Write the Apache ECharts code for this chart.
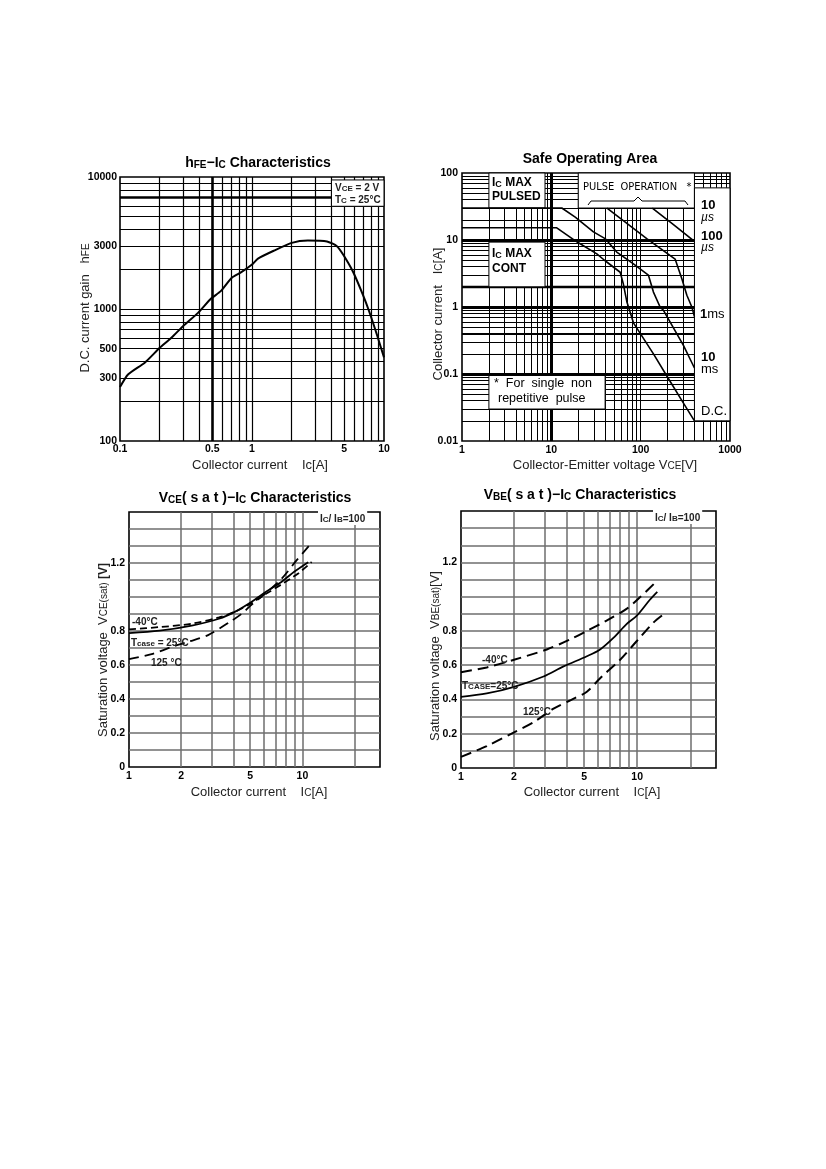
<!DOCTYPE html>
<html>
<head>
<meta charset="utf-8">
<script src="https://cdn.jsdelivr.net/npm/echarts@6/dist/echarts.min.js"></script>
<style>
html, body { margin:0; padding:0; background:#fff; }
#page { position:relative; width:826px; height:1169px; }
#chart { position:absolute; left:0; top:0; width:826px; height:1169px; }
.rule1 { position:absolute; left:76px; top:89px; width:674px; height:1px; background:#7a7a7a; }
.rule2 { position:absolute; left:79px; top:133px; width:671px; height:4px; background:#000; }
</style>
</head>
<body>
<div id="page">
  <div class="rule1"></div>
  <div class="rule2"></div>
  <div id="chart"></div>
</div>
<script>
// ---------- hFE - Ic ----------
var hfeIc   = [0.1, 0.115, 0.154, 0.2, 0.245, 0.3, 0.39, 0.49, 0.58, 0.7, 0.83, 1.0, 1.11, 1.47, 2.0, 2.65, 3.7, 4.4, 4.9, 5.8, 6.9, 7.7, 8.9, 10];
var hfeGain = [256, 319, 392, 508, 605, 741, 935, 1200, 1365, 1720, 1900, 2170, 2410, 2770, 3170, 3300, 3250, 2990, 2585, 1930, 1290, 965, 625, 430];
var hfeXTicks = [0.1, 0.5, 1, 5, 10];
var hfeYTicks = [100, 300, 500, 1000, 3000, 10000];

// ---------- Safe operating area ----------
var soaDcV    = [1, 11.5, 19.3, 32.3, 40, 59, 64, 70, 76, 83, 139, 205, 300, 400];
var soaDcI    = [15.2, 15.2, 9.4, 6.2, 4.9, 3.3, 2.2, 1.2, 0.85, 0.58, 0.2, 0.085, 0.037, 0.02];
var soa10msV  = [1, 13.1, 18.5, 29.6, 40, 54, 83, 122, 139, 165, 180, 300, 400];
var soa10msI  = [30, 30, 22, 13.2, 10.5, 6.6, 4.4, 3.0, 1.67, 1.0, 0.89, 0.27, 0.123];
var soa1msV   = [42, 117, 243, 289, 329, 374, 400];
var soa1msI   = [30, 10.5, 5.2, 2.65, 1.5, 1.0, 0.72];
var soa100usV = [135, 233, 400];
var soa100usI = [30, 17, 9.5];
var soaXTicks = [1, 10, 100, 1000];
var soaYTicks = [0.01, 0.1, 1, 10, 100];

// ---------- VCE(sat) - Ic ----------
var vceIc25  = [1, 1.5, 2.3, 3.3, 4.1, 5.1, 6.2, 7.6, 9.0, 10.8];
var vce25    = [0.788, 0.802, 0.832, 0.872, 0.914, 0.972, 1.032, 1.09, 1.15, 1.205];
var vceIcM40 = [1, 1.5, 2.3, 3.3, 4.1, 5.1, 6.2, 7.6, 8.5, 9.5, 11.3];
var vceM40   = [0.81, 0.823, 0.843, 0.88, 0.914, 0.965, 1.02, 1.075, 1.107, 1.14, 1.206];
var vceIc125 = [1, 1.35, 1.84, 2.2, 2.86, 3.9, 4.45, 5.1, 6.1, 7.57, 9.24, 10.9];
var vce125   = [0.634, 0.664, 0.713, 0.737, 0.776, 0.86, 0.9, 0.955, 1.02, 1.107, 1.215, 1.30];

// ---------- VBE(sat) - Ic ----------
var vbeIcM40 = [1, 1.4, 2.0, 3.07, 4.17, 5.18, 6.7, 8.7, 10.4, 12.8];
var vbeM40   = [0.559, 0.587, 0.632, 0.692, 0.751, 0.80, 0.86, 0.929, 0.998, 1.087];
var vbeIc25  = [1, 1.4, 2.0, 2.94, 3.82, 5.18, 6.16, 7.35, 8.7, 9.95, 11.8, 13.0];
var vbe25    = [0.415, 0.435, 0.474, 0.534, 0.593, 0.652, 0.692, 0.761, 0.84, 0.889, 0.982, 1.028];
var vbeIc125 = [1, 1.4, 2.0, 2.58, 3.35, 4.36, 5.18, 6.16, 8.0, 9.95, 12.4, 14.2];
var vbe125   = [0.065, 0.128, 0.208, 0.267, 0.346, 0.405, 0.445, 0.524, 0.632, 0.741, 0.85, 0.899];

var satXTicks = [1, 2, 5, 10];
var satYTicks = [0, 0.2, 0.4, 0.6, 0.8, 1.2];

var TF = 'Liberation Sans';
var NARROW = "'Liberation Sans Narrow', 'DejaVu Sans Condensed', 'Liberation Sans'";

// log grid: 2..9 x 10^k between lo and hi (plus inner decades)
function logGrid(lo, hi) {
  var out = [];
  for (var d = lo; d < hi; d *= 10) {
    for (var m = 1; m <= 9; m++) {
      var v = +(m * d).toPrecision(6);
      if (v > lo && v < hi) out.push(v);
    }
  }
  return out;
}
function linGrid(lo, hi, step) {
  var out = [];
  for (var v = lo + step; v < hi - 1e-9; v += step) out.push(+v.toFixed(6));
  return out;
}

function fmt(v) { return String(+(+v).toPrecision(6)); }

function axis(type, idx, min, max, ticks, margin) {
  return {
    type: type, logBase: 10, gridIndex: idx, min: min, max: max,
    axisLine: { show: false }, axisTick: { show: false },
    splitLine: { show: false }, minorTick: { show: false }, minorSplitLine: { show: false },
    axisLabel: {
      customValues: ticks, margin: margin, color: '#000',
      fontFamily: TF, fontSize: 10.5, fontWeight: 'bold',
      showMinLabel: true, showMaxLabel: true, formatter: fmt
    }
  };
}

function gridSeries(idx, xs, ys, xr, yr, st) {
  var data = [];
  xs.forEach(function (v) {
    data.push({ coords: [[v, yr[0]], [v, yr[1]]], lineStyle: { width: st.xw[v] || st.w, color: st.color } });
  });
  ys.forEach(function (v) {
    data.push({ coords: [[xr[0], v], [xr[1], v]], lineStyle: { width: st.yw[v] || st.w, color: st.color } });
  });
  return {
    type: 'lines', coordinateSystem: 'cartesian2d', xAxisIndex: idx, yAxisIndex: idx,
    silent: true, z: 1, animation: false,
    lineStyle: { color: st.color, width: st.w, opacity: 1, curveness: 0 },
    data: data
  };
}

function curve(idx, xs, ys, dash, width, smooth) {
  return {
    type: 'line', xAxisIndex: idx, yAxisIndex: idx, z: 3, symbol: 'none',
    smooth: smooth, animation: false, silent: true,
    lineStyle: { color: '#000', width: width, type: dash || 'solid' },
    data: xs.map(function (x, i) { return [x, ys[i]]; })
  };
}

function boxSeries(idx, boxes) {
  return {
    type: 'custom', coordinateSystem: 'cartesian2d', xAxisIndex: idx, yAxisIndex: idx,
    z: 2, silent: true, animation: false, encode: { x: [0, 2], y: [1, 3] },
    renderItem: function (params, api) {
      var a = api.coord([api.value(0), api.value(1)]);
      var b = api.coord([api.value(2), api.value(3)]);
      return {
        type: 'rect',
        shape: { x: Math.min(a[0], b[0]), y: Math.min(a[1], b[1]), width: Math.abs(a[0] - b[0]), height: Math.abs(a[1] - b[1]) },
        style: { fill: '#fff', stroke: '#000', lineWidth: 1 }
      };
    },
    data: boxes
  };
}

// annotation boxes (white panels over the grid), in axis units
var hfeBoxes = [[4, 6000, 10, 9500]];
var soaBoxes = [[2, 30, 8.5, 100], [2, 2, 8.5, 9.3], [20, 30, 400, 100], [2, 0.03, 40, 0.095], [400, 0.02, 1000, 60]];

function R(size, bold, extra) {
  var o = { fontFamily: TF, fontSize: size, fontWeight: bold ? 'bold' : 'normal', fill: '#000', verticalAlign: 'bottom', lineHeight: size + 2 };
  for (var k in extra || {}) o[k] = extra[k];
  return o;
}
function txt(x, y, text, o) {
  o = o || {};
  var st = {
    text: text, fontFamily: o.family || TF, fontSize: o.size || 12, fontWeight: o.bold ? 'bold' : 'normal',
    fill: o.color || '#000', align: o.align || 'left', verticalAlign: 'middle', rich: o.rich || {}
  };
  if (o.bg) { st.backgroundColor = o.bg; st.padding = o.pad || [1, 2]; }
  return { type: 'text', x: x, y: y, rotation: o.rot || 0, z: 100, silent: true, style: st };
}

var titleRich = { b: R(14, true), s: R(10, true, { lineHeight: 14 }) };
var nameRich  = { n: R(13, false, { fill: '#222' }), s: R(10, false, { fill: '#222', lineHeight: 13 }), v: R(12, true, { fill: '#222' }) };
var noteRich  = { n: R(10, true, { fill: '#222' }), s: R(8, true, { fill: '#222', lineHeight: 10 }) };
var boxRich   = { n: R(12, true), s: R(9, true, { lineHeight: 12 }) };
var sideRich  = { n: R(13, true), u: R(12, false, { fontStyle: 'italic' }), m: R(13, false) };

var grids = [
  { left: 120, top: 177, width: 264, height: 264 },
  { left: 462, top: 173, width: 268, height: 268 },
  { left: 129, top: 512, width: 251, height: 255 },
  { left: 461, top: 511, width: 255, height: 257 }
].map(function (g) {
  g.show = true; g.borderColor = '#000'; g.borderWidth = 1.6; g.backgroundColor = 'transparent';
  g.containLabel = false;
  return g;
});

var option = {
  animation: false,
  backgroundColor: '#fff',
  grid: grids,
  xAxis: [
    axis('log', 0, 0.1, 10, hfeXTicks, 3),
    axis('log', 1, 1, 1000, soaXTicks, 4),
    axis('log', 2, 1, 28, satXTicks, 4),
    axis('log', 3, 1, 28, satXTicks, 4)
  ],
  yAxis: [
    axis('log', 0, 100, 10000, hfeYTicks, 3),
    axis('log', 1, 0.01, 100, soaYTicks, 4),
    axis('value', 2, 0, 1.5, satYTicks, 4),
    axis('value', 3, 0, 1.5, satYTicks, 4)
  ],
  series: [
    // hFE
    gridSeries(0, logGrid(0.1, 10), logGrid(100, 10000), [0.1, 10], [100, 10000],
      { color: '#000', w: 1.2, xw: { 0.5: 2.6 }, yw: { 7000: 2.6 } }),
    boxSeries(0, hfeBoxes),
    curve(0, hfeIc, hfeGain, 'solid', 2, 0.2),

    // SOA
    gridSeries(1, logGrid(1, 1000), logGrid(0.01, 100), [1, 1000], [0.01, 100],
      { color: '#000', w: 1, xw: { 10: 3 }, yw: { 10: 3, 2: 2.4, 1: 3, 0.4: 2, 0.1: 3 } }),
    boxSeries(1, soaBoxes),
    curve(1, soaDcV, soaDcI, 'solid', 1.6, false),
    curve(1, soa10msV, soa10msI, 'solid', 1.6, false),
    curve(1, soa1msV, soa1msI, 'solid', 1.6, false),
    curve(1, soa100usV, soa100usI, 'solid', 1.6, false),

    // VCE(sat)
    gridSeries(2, logGrid(1, 28).filter(function (v) { return v <= 20; }), linGrid(0, 1.5, 0.1), [1, 28], [0, 1.5],
      { color: '#6e6e6e', w: 1.5, xw: {}, yw: {} }),
    curve(2, vceIc25, vce25, 'solid', 1.8, 0.3),
    curve(2, vceIcM40, vceM40, [7, 4], 1.8, 0.3),
    curve(2, vceIc125, vce125, [10, 6], 1.8, 0.3),

    // VBE(sat)
    gridSeries(3, logGrid(1, 28).filter(function (v) { return v <= 20; }), linGrid(0, 1.5, 0.1), [1, 28], [0, 1.5],
      { color: '#6e6e6e', w: 1.5, xw: {}, yw: {} }),
    curve(3, vbeIc25, vbe25, 'solid', 1.8, 0.3),
    curve(3, vbeIcM40, vbeM40, [11, 6], 2, 0.3),
    curve(3, vbeIc125, vbe125, [11, 6], 2, 0.3)
  ],
  graphic: [
    // titles
    txt(258, 162, '{b|h}{s|FE}{b|\u2212I}{s|C}{b| Characteristics}', { align: 'center', rich: titleRich }),
    txt(590, 158, '{b|Safe Operating Area}', { align: 'center', rich: titleRich }),
    txt(255, 497, '{b|V}{s|CE}{b|( s a t )\u2212I}{s|C}{b| Characteristics}', { align: 'center', rich: titleRich }),
    txt(580, 494, '{b|V}{s|BE}{b|( s a t )\u2212I}{s|C}{b| Characteristics}', { align: 'center', rich: titleRich }),

    // axis names
    txt(260, 464, '{n|Collector current    Ic[A]}', { align: 'center', rich: nameRich }),
    txt(84, 308, '{n|D.C. current gain   h}{s|FE}', { align: 'center', rich: nameRich, rot: Math.PI / 2 }),
    txt(605, 464, '{n|Collector-Emitter voltage V}{s|CE}{n|[V]}', { align: 'center', rich: nameRich }),
    txt(437, 314, '{n|Collector current   I}{s|C}{n|[A]}', { align: 'center', rich: nameRich, rot: Math.PI / 2 }),
    txt(259, 791, '{n|Collector current    I}{s|C}{n|[A]}', { align: 'center', rich: nameRich }),
    txt(102, 650, '{n|Saturation voltage  V}{s|CE(sat)}{v| [V]}', { align: 'center', rich: nameRich, rot: Math.PI / 2 }),
    txt(592, 791, '{n|Collector current    I}{s|C}{n|[A]}', { align: 'center', rich: nameRich }),
    txt(434, 656, '{n|Saturation voltage  V}{s|BE(sat)}{n|[V]}', { align: 'center', rich: nameRich, rot: Math.PI / 2 }),

    // hFE conditions
    txt(335, 187, '{n|V}{s|CE}{n| = 2 V}', { rich: noteRich }),
    txt(335, 199, '{n|T}{s|C}{n| = 25\u00b0C}', { rich: noteRich }),

    // SOA panels
    txt(492, 182, '{n|I}{s|C}{n| MAX}', { rich: boxRich }),
    txt(492, 196, '{n|PULSED}', { rich: boxRich }),
    txt(492, 253, '{n|I}{s|C}{n| MAX}', { rich: boxRich }),
    txt(492, 268, '{n|CONT}', { rich: boxRich }),
    txt(583, 187, 'PULSE  OPERATION   *', { size: 11, family: NARROW }),
    { type: 'polyline', z: 100, silent: true,
      shape: { points: [[588, 205], [591, 201], [634, 201], [638, 197], [642, 201], [685, 201], [688, 205]] },
      style: { stroke: '#000', lineWidth: 1, fill: null } },
    txt(494, 384, '*  For  single  non', { size: 12.5 }),
    txt(498, 399, 'repetitive  pulse', { size: 12.5 }),
    txt(701, 204, '{n|10}', { rich: sideRich }),
    txt(701, 217, '{u|\u00b5s}', { rich: sideRich }),
    txt(701, 235, '{n|100}', { rich: sideRich }),
    txt(701, 247, '{u|\u00b5s}', { rich: sideRich }),
    txt(700, 313, '{n|1}{m|ms}', { rich: sideRich }),
    txt(701, 356, '{n|10}', { rich: sideRich }),
    txt(701, 368, '{m|ms}', { rich: sideRich }),
    txt(701, 410, '{m|D.C.}', { rich: sideRich }),

    // VCE(sat) notes
    txt(318, 518, '{n|I}{s|C}{n|/ I}{s|B}{n|=100}', { rich: noteRich, bg: '#fff' }),
    txt(132, 621, '{n|-40\u00b0C}', { rich: noteRich }),
    txt(131, 642, '{n|T}{s|case}{n| = 25\u00b0C}', { rich: noteRich }),
    txt(151, 662, '{n|125 \u00b0C}', { rich: noteRich }),

    // VBE(sat) notes
    txt(653, 517, '{n|I}{s|C}{n|/ I}{s|B}{n|=100}', { rich: noteRich, bg: '#fff' }),
    txt(482, 659, '{n|-40\u00b0C}', { rich: noteRich }),
    txt(462, 685, '{n|T}{s|CASE}{n|=25\u00b0C}', { rich: noteRich }),
    txt(523, 711, '{n|125\u00b0C}', { rich: noteRich })
  ]
};

var myChart = echarts.init(document.getElementById('chart'));
myChart.setOption(option);
</script>
</body>
</html>
